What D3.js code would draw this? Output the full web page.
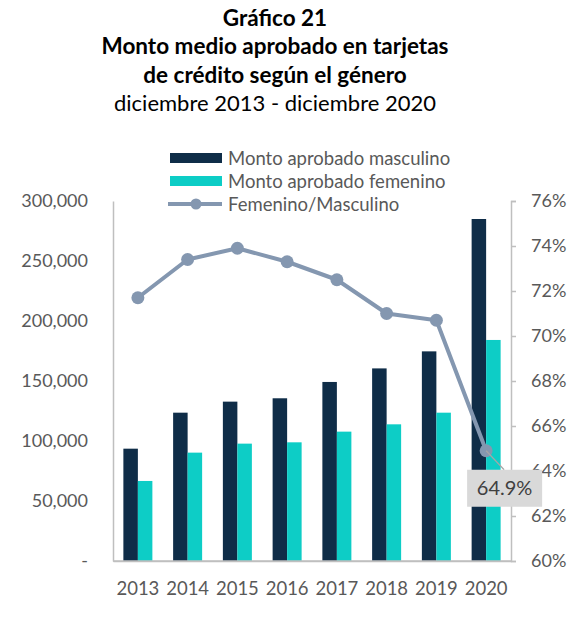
<!DOCTYPE html>
<html>
<head>
<meta charset="utf-8">
<script src="https://cdn.jsdelivr.net/npm/d3@7"></script>
<style>
  body { margin: 0; background: #fff; }
  text { font-family: Lato, "Open Sans", sans-serif; }
</style>
</head>
<body>
<script>
// data
const years = ["2013", "2014", "2015", "2016", "2017", "2018", "2019", "2020"];
const masculino = [93600, 123600, 132800, 135600, 149200, 160500, 174700, 285000];
const femenino = [66700, 90300, 97800, 98900, 107800, 113900, 123600, 184200];
const ratio = [71.7, 73.4, 73.9, 73.3, 72.5, 71.0, 70.7, 64.9];
const leftTicks = [0, 50000, 100000, 150000, 200000, 250000, 300000];
const rightTicks = [60, 62, 64, 66, 68, 70, 72, 74, 76];

const W = 573, H = 617;
const margin = {top: 201, right: 62, bottom: 56, left: 113};
const width = W - margin.left - margin.right;
const height = H - margin.top - margin.bottom;

const svg = d3.select("body").append("svg")
    .attr("width", W)
    .attr("height", H);

// titles
const titles = [
  {t: "Gráfico 21", y: 26, bold: true},
  {t: "Monto medio aprobado en tarjetas", y: 54, bold: true},
  {t: "de crédito según el género", y: 83, bold: true},
  {t: "diciembre 2013 - diciembre 2020", y: 111, bold: false}
];
svg.selectAll(".title").data(titles).enter().append("text")
    .attr("x", 275)
    .attr("y", d => d.y)
    .attr("text-anchor", "middle")
    .attr("font-size", d => d.bold ? 22.5 : 22)
    .attr("font-weight", d => d.bold ? "bold" : "normal")
    .attr("fill", "#000")
    .text(d => d.t);

const g = svg.append("g")
    .attr("transform", "translate(" + margin.left + "," + margin.top + ")");

const x = d3.scaleBand().domain(years).range([0, width]);
const bw = 14.5;

const y = d3.scaleLinear().domain([0, 300000]).range([height, 0]);
const y2 = d3.scaleLinear().domain([60, 76]).range([height, 0]);

// left axis
const yAxis = g.append("g")
    .call(d3.axisLeft(y).tickValues(leftTicks).tickSize(0).tickPadding(25)
      .tickFormat(d => d === 0 ? "-" : d3.format(",")(d)));
yAxis.select(".domain").attr("stroke", "#bfbfbf").attr("stroke-width", 1.5);
yAxis.selectAll("text").attr("font-size", 18).attr("fill", "#595959")
    .attr("font-family", "Lato, sans-serif");

// right axis
const yAxis2 = g.append("g")
    .attr("transform", "translate(" + width + ",0)")
    .call(d3.axisRight(y2).tickValues(rightTicks).tickSize(5).tickPadding(15)
      .tickFormat(d => d + "%"));
yAxis2.select(".domain").attr("stroke", "#bfbfbf").attr("stroke-width", 1.5);
yAxis2.selectAll("line").attr("stroke", "#bfbfbf").attr("stroke-width", 1.5);
yAxis2.selectAll("text").attr("font-size", 18).attr("fill", "#595959")
    .attr("font-family", "Lato, sans-serif");

// bottom axis
const xAxis = g.append("g")
    .attr("transform", "translate(0," + height + ")")
    .call(d3.axisBottom(x).tickSize(0).tickPadding(21));
xAxis.select(".domain").attr("stroke", "#bfbfbf").attr("stroke-width", 1.5);
xAxis.selectAll("text").attr("font-size", 18.5).attr("fill", "#595959")
    .attr("font-family", "Lato, sans-serif");

// bars
g.selectAll(".bm").data(years).enter().append("rect")
    .attr("x", d => x(d) + x.bandwidth() / 2 - bw)
    .attr("y", (d, i) => y(masculino[i]))
    .attr("width", bw)
    .attr("height", (d, i) => height - y(masculino[i]))
    .attr("fill", "#0f2d48");

g.selectAll(".bf").data(years).enter().append("rect")
    .attr("x", d => x(d) + x.bandwidth() / 2)
    .attr("y", (d, i) => y(femenino[i]))
    .attr("width", bw)
    .attr("height", (d, i) => height - y(femenino[i]))
    .attr("fill", "#0dcdc6");

// redraw bottom line above bars
g.append("line")
    .attr("x1", 0).attr("x2", width)
    .attr("y1", height).attr("y2", height)
    .attr("stroke", "#bfbfbf").attr("stroke-width", 1.5);

// ratio line
const line = d3.line()
    .x((d, i) => x(years[i]) + x.bandwidth() / 2)
    .y(d => y2(d));

g.append("path")
    .datum(ratio)
    .attr("d", line)
    .attr("fill", "none")
    .attr("stroke", "#8497b0")
    .attr("stroke-width", 4)
    .attr("stroke-linejoin", "round");

g.selectAll(".dot").data(ratio).enter().append("circle")
    .attr("cx", (d, i) => x(years[i]) + x.bandwidth() / 2)
    .attr("cy", d => y2(d))
    .attr("r", 6.5)
    .attr("fill", "#8497b0");

// data label for last point
const lx = x(years[7]) + x.bandwidth() / 2, ly = y2(ratio[7]);
g.append("line")
    .attr("x1", lx).attr("y1", ly)
    .attr("x2", lx + 18).attr("y2", ly + 19)
    .attr("stroke", "#a6a6a6").attr("stroke-width", 1.2);
g.append("rect")
    .attr("x", lx - 19).attr("y", ly + 19)
    .attr("width", 75).attr("height", 37)
    .attr("fill", "#d9d9d9");
g.append("text")
    .attr("x", lx + 18.5).attr("y", ly + 44.5)
    .attr("text-anchor", "middle")
    .attr("font-size", 20)
    .attr("fill", "#404040")
    .text(d3.format(".1f")(ratio[7]) + "%");

// legend
const legend = svg.append("g");
const items = [
  {name: "Monto aprobado masculino", color: "#0f2d48", type: "rect", y: 158},
  {name: "Monto aprobado femenino", color: "#0dcdc6", type: "rect", y: 181},
  {name: "Femenino/Masculino", color: "#8497b0", type: "line", y: 204}
];
items.forEach(it => {
  if (it.type === "rect") {
    legend.append("rect").attr("x", 170).attr("y", it.y - 5)
      .attr("width", 52).attr("height", 10).attr("fill", it.color);
  } else {
    legend.append("line").attr("x1", 168).attr("x2", 222)
      .attr("y1", it.y).attr("y2", it.y)
      .attr("stroke", it.color).attr("stroke-width", 4);
    legend.append("circle").attr("cx", 196).attr("cy", it.y).attr("r", 5.5)
      .attr("fill", it.color);
  }
  legend.append("text").attr("x", 228).attr("y", it.y + 6.5)
    .attr("font-size", 18.5).attr("fill", "#595959")
    .text(it.name);
});
</script>
</body>
</html>
